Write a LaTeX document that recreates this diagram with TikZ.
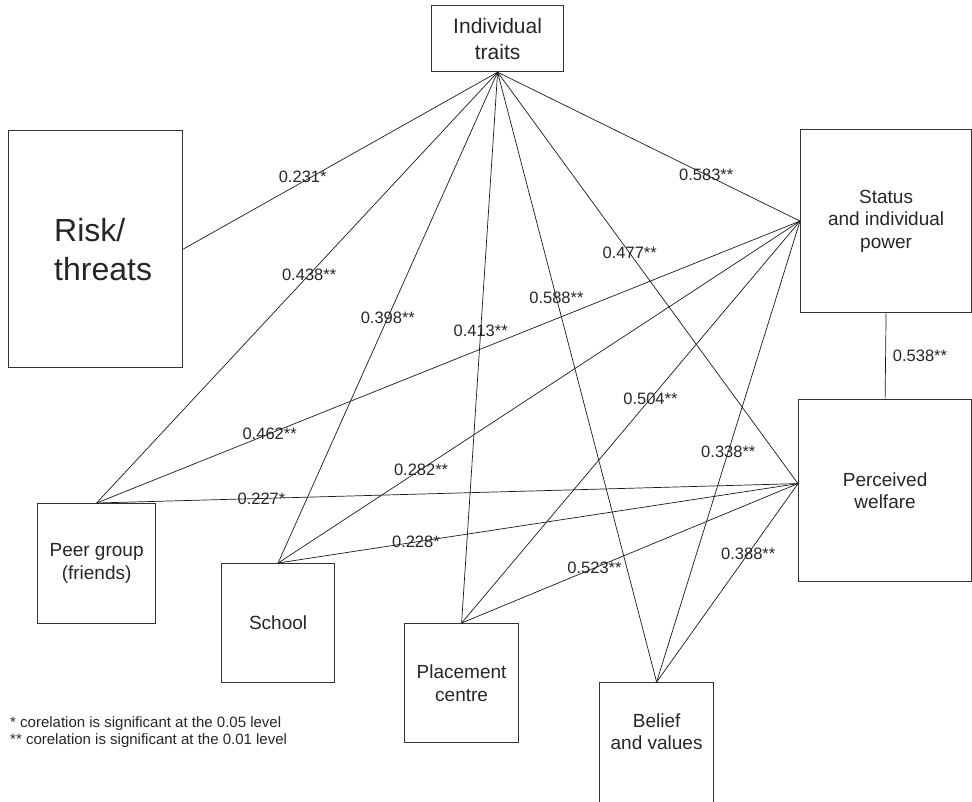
\documentclass[tikz,border=0pt]{standalone}
\usepackage{fontspec}
\setmainfont{Liberation Sans}
\usetikzlibrary{positioning}

\begin{document}
\begin{tikzpicture}[x=1pt,y=1pt,
txt/.style={align=center,text=black!85,font=\fontsize{19}{22.5}\selectfont},
box/.style={txt,draw=black!80,line width=1.2pt,inner sep=0pt},
link/.style={line width=0.7pt,black!90},
val/.style={text=black!85,inner sep=0pt,font=\fontsize{16.5}{18}\selectfont}]
\useasboundingbox (0,0) rectangle (972,-801);
\coordinate (o) at (0,0);
\node[box,minimum width=132pt,minimum height=66pt,below right=5pt and 431pt of o,font=\fontsize{21}{26}\selectfont](it){Individual\\traits};
\node[box,minimum width=174pt,minimum height=237pt,below right=130pt and 8pt of o,
label={[txt,align=left,xshift=7.5pt,font=\fontsize{32}{39}\selectfont]center:Risk/\\threats}](rt){};
\node[box,minimum width=171pt,minimum height=183pt,below right=129pt and 800pt of o](st){Status\\and individual\\power};
\node[box,minimum width=173pt,minimum height=182pt,below right=399pt and 798pt of o](pw){Perceived\\welfare};
\node[box,minimum width=118pt,minimum height=120pt,below right=503pt and 37pt of o](pg){Peer group\\(friends)};
\node[box,minimum width=113pt,minimum height=119pt,below right=563pt and 221pt of o](sc){School};
\node[box,minimum width=114pt,minimum height=119pt,below right=623pt and 404pt of o](pc){Placement\\centre};
\node[box,minimum width=114pt,minimum height=125pt,below right=682pt and 599pt of o,
label={[txt,yshift=13.5pt]center:Belief\\and values}](bv){};
\coordinate[above=7pt of pw.west](pwh);
\node[val,align=left,font=\fontsize{15}{17}\selectfont,below right=716pt and 10pt of o](nt){* corelation is significant at the 0.05 level\\** corelation is significant at the 0.01 level};

\draw[link](it.south)--node[val,pos=0.62,yshift=5pt]{0.231*}(rt.east);
\draw[link](it.south)--node[val,pos=0.47]{0.438**}(pg.north);
\draw[link](it.south)--node[val,pos=0.5]{0.398**}(sc.north);
\draw[link](it.south)--node[val,pos=0.47]{0.413**}(pc.north);
\draw[link](it.south)--node[val,pos=0.37]{0.588**}(bv.north);
\draw[link](it.south)--node[val,pos=0.44]{0.477**}(pwh);
\draw[link](it.south)--node[val,pos=0.69]{0.583**}(st.west);

\draw[link](st.west)--node[val,pos=0.754]{0.462**}(pg.north);
\draw[link](st.west)--node[val,pos=0.726]{0.282**}(sc.north);
\draw[link](st.west)--node[val,pos=0.442]{0.504**}(pc.north);
\draw[link](st.west)--node[val,pos=0.5]{0.338**}(bv.north);

\draw[link](pwh)--node[val,pos=0.765]{0.227*}(pg.north);
\draw[link](pwh)--node[val,pos=0.735]{0.228*}(sc.north);
\draw[link](pwh)--node[val,pos=0.605]{0.523**}(pc.north);
\draw[link](pwh)--node[val,pos=0.352]{0.388**}(bv.north);

\draw[link](st.south)--node[val,right=7pt]{0.538**}(pw.north);
\end{tikzpicture}
\end{document}
